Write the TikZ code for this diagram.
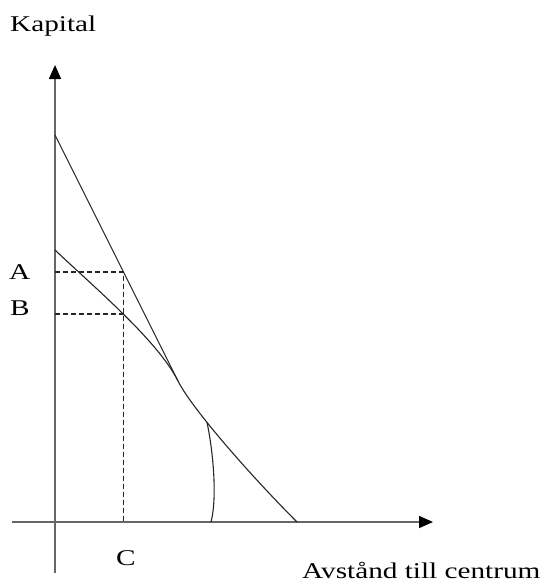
\documentclass[tikz,border=0pt]{standalone}
\usepackage{fontspec}
\setmainfont{Liberation Serif}
\usetikzlibrary{arrows.meta}
\tikzset{
  axis/.style={line width=1.6pt, draw=black!60, -{Triangle[length=14pt,width=12pt,fill=black,color=black]}},
  curve/.style={line width=1.1pt, draw=black!85},
  guide/.style={line width=1.1pt, draw=black!85, dash pattern=on 5pt off 3pt},
  lbl/.style={inner sep=0pt, anchor=base west, font=\fontsize{22.5}{24}\selectfont},
}
\newcommand{\widetext}[1]{\scalebox{1.3}[1]{#1}}
\begin{document}
\begin{tikzpicture}[x=1pt,y=-1pt]
\useasboundingbox (0,0) rectangle (544,584);
% axes
\coordinate (ybot) at (55,573);
\coordinate (ytop) at (55,65);
\coordinate (xl) at (12,522);
\coordinate (xr) at (433,522);
\draw[axis] (ybot) -- (ytop);
\draw[axis] (xl) -- (xr);
% straight line and curves
\coordinate (L0) at (55,135);
\coordinate (T) at (178,381);
\coordinate (C0) at (55,250);
\coordinate (E) at (297,522);
\coordinate (F) at (211,522);
\draw[curve] (L0) -- (T);
\draw[curve] (C0) .. controls (95,288) and (158,341) .. (T)
   .. controls (192,409) and (252,477) .. (E) coordinate[pos=0.35] (J);
\draw[curve] (J) .. controls (212,445) and (218,495) .. (F);
% dashed guides
\coordinate (Ay) at (55,272);
\coordinate (Ap) at (123.5,272);
\coordinate (By) at (55,314);
\coordinate (Bp) at (123.5,314);
\coordinate (Cx) at (123.5,522);
\draw[guide] (Ay) -- (Ap) -- (Cx);
\draw[guide] (By) -- (Bp);
% labels
\node[lbl] (kap) at (10,31) {\widetext{Kapital}};
\node[lbl] (A) at (9,279) {\widetext{A}};
\node[lbl] (B) at (10,315) {\widetext{B}};
\node[lbl] (C) at (116,565) {\widetext{C}};
\node[lbl] (avs) at (302,578) {\widetext{Avstånd till centrum}};
\end{tikzpicture}
\end{document}
